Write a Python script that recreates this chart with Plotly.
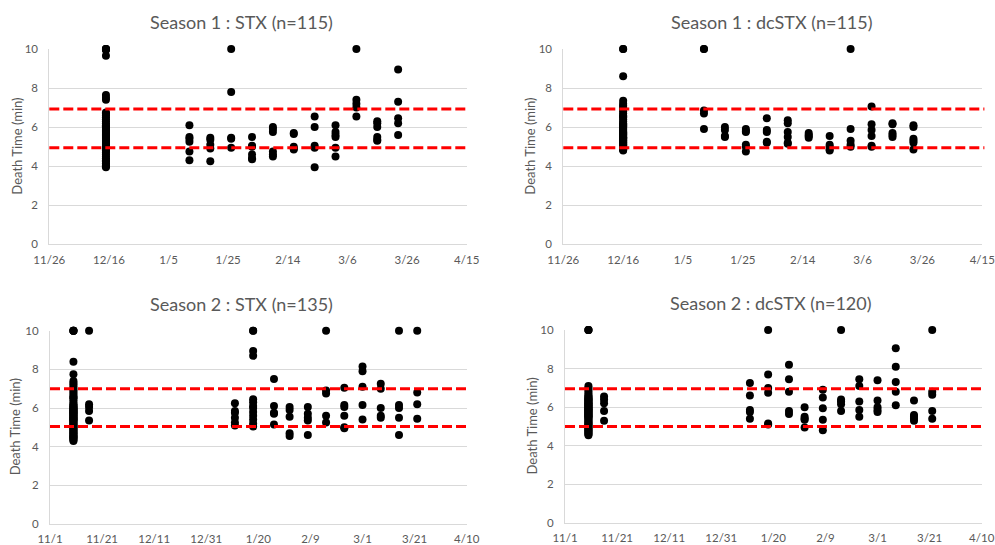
import plotly.graph_objects as go

# ---------------- data ----------------
# Season 1 : STX
s1_stx_dates = ["2017-12-15", "2018-01-12", "2018-01-19", "2018-01-26", "2018-02-02", "2018-02-09",
                "2018-02-16", "2018-02-23", "2018-03-02", "2018-03-09", "2018-03-16", "2018-03-23"]
s1_stx_values = [
    [10, 10, 10, 9.95, 9.65, 7.65, 7.5, 7.4, 6.75, 6.7, 6.6, 6.5, 6.4, 6.3, 6.2, 6.1, 6.05, 6.0, 5.95,
     5.9, 5.85, 5.8, 5.8, 5.75, 5.7, 5.65, 5.6, 5.6, 5.55, 5.5, 5.45, 5.4, 5.4, 5.35, 5.3, 5.25, 5.2,
     5.15, 5.1, 5.05, 5.0, 4.95, 4.9, 4.85, 4.8, 4.7, 4.6, 4.5, 4.4, 4.3, 4.25, 4.15, 4.05, 4.0, 3.95],
    [6.1, 5.5, 5.4, 5.25, 4.75, 4.3],
    [5.45, 5.35, 5.1, 4.9, 4.25],
    [10, 7.8, 5.45, 5.4, 4.95],
    [5.5, 5.05, 5.0, 4.6, 4.4, 4.35],
    [6.0, 5.9, 5.75, 4.75, 4.6, 4.5],
    [5.7, 5.65, 5.0, 4.9, 4.85],
    [6.55, 6.0, 5.05, 4.95, 3.95],
    [6.1, 5.75, 5.6, 5.5, 4.95, 4.5],
    [10, 7.4, 7.2, 7.0, 6.55],
    [6.3, 6.2, 6.0, 5.5, 5.35, 5.3],
    [8.95, 7.3, 6.45, 6.2, 5.6],
]

# Season 1 : dcSTX
s1_dc_dates = ["2017-12-16", "2018-01-12", "2018-01-19", "2018-01-26", "2018-02-02", "2018-02-09",
               "2018-02-16", "2018-02-23", "2018-03-02", "2018-03-09", "2018-03-16", "2018-03-23"]
s1_dc_values = [
    [10, 10, 8.6, 7.35, 7.2, 7.1, 7.0, 6.9, 6.8, 6.7, 6.6, 6.55, 6.5, 6.4, 6.3, 6.2, 6.15, 6.1, 6.05,
     6.0, 5.95, 5.9, 5.85, 5.8, 5.75, 5.7, 5.7, 5.65, 5.6, 5.6, 5.55, 5.5, 5.5, 5.45, 5.4, 5.4, 5.35,
     5.3, 5.3, 5.25, 5.2, 5.2, 5.15, 5.1, 5.1, 5.05, 5.0, 5.0, 4.95, 4.95, 4.9, 4.9, 4.85, 4.85, 4.8,
     5.65, 5.75, 5.45],
    [10, 10, 6.85, 6.7, 5.9],
    [6.0, 5.85, 5.55, 5.5],
    [5.9, 5.8, 5.75, 5.1, 5.0, 4.75],
    [6.45, 5.85, 5.75, 5.25, 5.2],
    [6.35, 6.2, 5.75, 5.5, 5.2, 5.15],
    [5.7, 5.6, 5.55, 5.45],
    [5.55, 5.1, 5.0, 4.85, 4.8],
    [10, 5.9, 5.3, 5.1, 5.0],
    [7.05, 6.15, 5.85, 5.55, 5.05, 5.0],
    [6.2, 6.15, 5.7, 5.6, 5.5],
    [6.1, 6.0, 5.4, 5.3, 5.2, 4.85],
]

# Season 2 : STX
s2_stx_dates = ["2018-11-10", "2018-11-16", "2019-01-11", "2019-01-18", "2019-01-26", "2019-02-01",
                "2019-02-08", "2019-02-15", "2019-02-22", "2019-03-01", "2019-03-08", "2019-03-15",
                "2019-03-22"]
s2_stx_values = [
    [10, 10, 10, 10, 8.4, 7.75, 7.4, 7.3, 7.2, 7.1, 7.0, 6.9, 6.8, 6.7, 6.6, 6.55, 6.5, 6.4, 6.3, 6.2,
     6.15, 6.1, 6.05, 6.0, 5.95, 5.9, 5.85, 5.8, 5.8, 5.75, 5.7, 5.65, 5.6, 5.6, 5.55, 5.5, 5.5, 5.45,
     5.4, 5.35, 5.3, 5.25, 5.2, 5.15, 5.1, 5.05, 5.0, 4.95, 4.9, 4.85, 4.8, 4.75, 4.7, 4.65, 4.6,
     4.55, 4.5, 4.5, 4.45, 4.4, 4.35, 4.3, 5.7, 5.9, 6.0, 5.4],
    [10, 6.2, 6.05, 5.85, 5.35],
    [6.25, 5.85, 5.75, 5.5, 5.25, 5.1],
    [10, 10, 8.95, 8.7, 6.45, 6.3, 6.1, 6.0, 5.8, 5.6, 5.4, 5.2, 5.05],
    [7.5, 6.1, 5.75, 5.7, 5.15],
    [6.05, 5.9, 5.55, 4.7, 4.55],
    [6.05, 5.7, 5.5, 5.35, 4.6],
    [10, 6.9, 6.75, 5.6, 5.25],
    [7.05, 6.15, 6.05, 5.6, 5.0, 4.95],
    [8.15, 7.9, 7.1, 6.15, 5.4],
    [7.25, 7.0, 6.0, 5.6, 5.5],
    [10, 6.15, 6.0, 5.5, 4.6],
    [10, 6.8, 6.2, 5.45],
]

# Season 2 : dcSTX
s2_dc_dates = ["2018-11-10", "2018-11-16", "2019-01-11", "2019-01-18", "2019-01-26", "2019-02-01",
               "2019-02-08", "2019-02-15", "2019-02-22", "2019-03-01", "2019-03-08", "2019-03-15",
               "2019-03-22"]
s2_dc_values = [
    [10, 10, 10, 7.1, 7.0, 6.9, 6.8, 6.7, 6.6, 6.55, 6.5, 6.45, 6.4, 6.35, 6.3, 6.25, 6.2, 6.15, 6.1,
     6.05, 6.0, 5.95, 5.9, 5.85, 5.8, 5.75, 5.7, 5.65, 5.6, 5.55, 5.5, 5.45, 5.4, 5.35, 5.3, 5.25, 5.2,
     5.15, 5.1, 5.05, 5.0, 4.95, 4.9, 4.85, 4.8, 4.75, 4.7, 4.65, 4.6, 4.55, 6.0, 5.8, 5.6, 6.2, 6.4,
     5.9, 5.7, 5.5, 6.1],
    [6.55, 6.4, 6.2, 5.8, 5.3],
    [7.25, 6.6, 5.85, 5.75, 5.4],
    [10, 7.7, 7.0, 6.75, 5.15, 5.1],
    [8.2, 7.45, 6.8, 5.8, 5.65],
    [6.0, 5.5, 5.4, 5.35, 4.95],
    [6.9, 6.5, 5.95, 5.35, 4.8],
    [10, 6.4, 6.3, 6.15, 5.8],
    [7.45, 7.1, 6.3, 5.85, 5.5],
    [7.4, 6.35, 6.0, 5.85, 5.75],
    [9.05, 8.1, 7.3, 6.8, 6.1],
    [6.35, 5.6, 5.5, 5.4, 5.3],
    [10, 6.8, 6.65, 5.8, 5.4],
]

titles = ["Season 1 : STX (n=115)", "Season 1 : dcSTX (n=115)",
          "Season 2 : STX (n=135)", "Season 2 : dcSTX (n=120)"]
thresholds = [[6.93, 4.95], [6.93, 4.95], [7.0, 5.05], [6.95, 5.0]]
x_ranges = [["2017-11-26", "2018-04-15"], ["2017-11-26", "2018-04-15"],
            ["2018-11-01", "2019-04-10"], ["2018-11-01", "2019-04-10"]]
y_ticks = [0, 2, 4, 6, 8, 10]
y_title = "Death Time (min)"

# ---------------- layout geometry (pixels) ----------------
W, H = 995, 545
panels = [
    dict(x0=49.3, x1=466.7, y0=49, y1=244.3, tx=241, ty=22, ytx=17, so=5),
    dict(x0=563.3, x1=982.3, y0=49, y1=244.3, tx=772, ty=22, ytx=530, so=5),
    dict(x0=50, x1=466.7, y0=330.7, y1=524, tx=241, ty=304, ytx=15, so=4),
    dict(x0=565, x1=981.7, y0=330, y1=523, tx=771, ty=303, ytx=531, so=4),
]

FONT = "Lato, Calibri, 'Liberation Sans', sans-serif"
GREY = "#595959"
GRID = "#d9d9d9"

datasets = [(s1_stx_dates, s1_stx_values), (s1_dc_dates, s1_dc_values),
            (s2_stx_dates, s2_stx_values), (s2_dc_dates, s2_dc_values)]

fig = go.Figure()
layout = dict(width=W, height=H, margin=dict(l=0, r=0, t=0, b=0, autoexpand=False),
              showlegend=False, plot_bgcolor="white", paper_bgcolor="white",
              font=dict(family=FONT, color=GREY))
annotations = []
shapes = []

for i, ((dates, vals), p) in enumerate(zip(datasets, panels)):
    n = i + 1
    xs, ys = [], []
    for d, vs in zip(dates, vals):
        xs += [d] * len(vs)
        ys += vs
    xa = "x" if n == 1 else f"x{n}"
    ya = "y" if n == 1 else f"y{n}"
    fig.add_trace(go.Scatter(x=xs, y=ys, mode="markers", xaxis=xa, yaxis=ya,
                             marker=dict(color="black", size=8), cliponaxis=False,
                             hoverinfo="x+y"))
    xkey = "xaxis" if n == 1 else f"xaxis{n}"
    ykey = "yaxis" if n == 1 else f"yaxis{n}"
    layout[xkey] = dict(
        domain=[p["x0"] / W, p["x1"] / W], anchor=ya, type="date", range=x_ranges[i],
        tick0=x_ranges[i][0], dtick=20 * 86400000, tickformat="%-m/%-d", automargin=False,
        showgrid=False, showline=True, linecolor=GRID, linewidth=1, zeroline=False,
        ticks="", ticklabelstandoff=p["so"], tickfont=dict(size=11.5, color=GREY, family=FONT))
    layout[ykey] = dict(
        domain=[1 - p["y1"] / H, 1 - p["y0"] / H], anchor=xa, range=[0, 10], automargin=False,
        tickvals=y_ticks, showgrid=True, gridcolor=GRID, gridwidth=1,
        showline=True, linecolor=GRID, linewidth=1, zeroline=False,
        ticks="", ticklabelstandoff=8, tickfont=dict(size=11.5, color=GREY, family=FONT))
    annotations.append(dict(text=titles[i], x=p["tx"] / W, y=1 - p["ty"] / H, xref="paper",
                            yref="paper", xanchor="center", yanchor="middle", showarrow=False,
                            font=dict(size=18, color=GREY, family=FONT)))
    annotations.append(dict(text=y_title, x=p["ytx"] / W, y=1 - (p["y0"] + p["y1"]) / 2 / H,
                            xref="paper", yref="paper", xanchor="center", yanchor="middle",
                            textangle=-90, showarrow=False,
                            font=dict(size=13, color=GREY, family=FONT)))
    for t in thresholds[i]:
        shapes.append(dict(type="line", xref=f"{xa} domain", yref=ya, x0=0, x1=1.005, y0=t, y1=t,
                           line=dict(color="#ff0000", width=3, dash="10px,4px"), layer="above"))

layout["annotations"] = annotations
layout["shapes"] = shapes
fig.update_layout(**layout)
fig.write_html("out.html")
